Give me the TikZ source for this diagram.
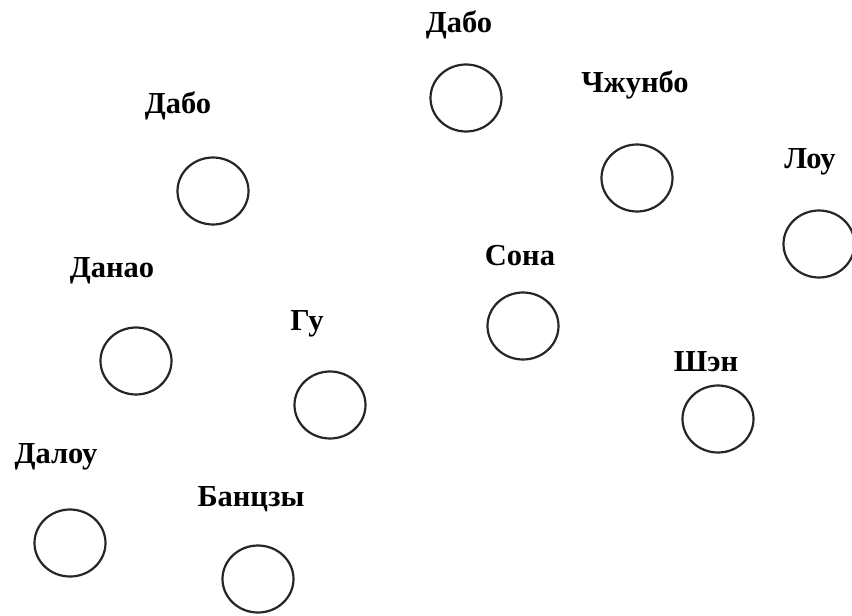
\documentclass[tikz,border=0pt]{standalone}
\usepackage{fontspec}
\setmainfont{Liberation Serif}
\usetikzlibrary{shapes.geometric}

\begin{document}
\begin{tikzpicture}[x=1pt, y=-1pt,
  ring/.style={draw=black!85, line width=2.2pt, ellipse, minimum width=71pt, minimum height=67pt, inner sep=0pt},
  lbl/.style={anchor=base, inner sep=0pt, font=\fontsize{30.5}{34}\selectfont\bfseries}]
  % page frame, in pixels of the original
  \useasboundingbox (0,0) rectangle (852,616);
  % empty rings, each with its name written above it
  \foreach \n/\cx/\cy/\lx/\ly/\t in {
      dabotop/466/98/459/32/Дабо,
      zhunbo/637/178/635/92/Чжунбо,
      lou/819/244/810/168/Лоу,
      daboleft/213/191/178/113/Дабо,
      sona/523/326/520/265/Сона,
      danao/136/361/112/277/Данао,
      gu/330/405/307/330/Гу,
      shen/718/419/706/371/Шэн,
      dalou/70/543/56/463/Далоу,
      bantszy/258/579/251/506/Банцзы}
  {
    \node[ring] (\n) at (\cx,\cy) {};
    \node[lbl] (\n-name) at (\lx,\ly) {\t};
  }
\end{tikzpicture}
\end{document}
